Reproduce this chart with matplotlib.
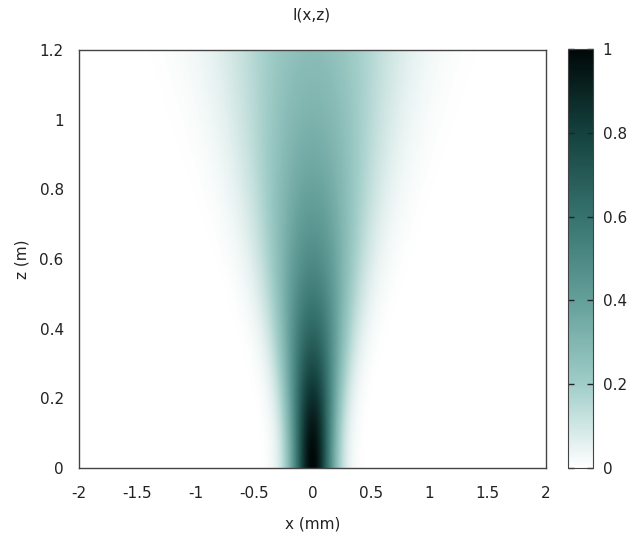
import numpy as np
import matplotlib
matplotlib.use('Agg')
import matplotlib.pyplot as plt
from matplotlib.colors import LinearSegmentedColormap

# beam parameters (1D gaussian beam)
w0 = 0.26e-3          # waist (m)
wavelength = 632.8e-9 # (m)
x_range = [-2.0, 2.0]   # mm
z_range = [0.0, 1.2]    # m
x_ticks = [-2, -1.5, -1, -0.5, 0, 0.5, 1, 1.5, 2]
z_ticks = [0, 0.2, 0.4, 0.6, 0.8, 1, 1.2]
cb_ticks = [0, 0.2, 0.4, 0.6, 0.8, 1]

# palette sampled from the colour box
pal_pos = [0.0, 0.2, 0.4, 0.6, 0.8, 1.0]
pal_col = ['#ffffff', '#a0cdc8', '#649f9a', '#37736e', '#14413e', '#000808']

plt.rcParams['axes.unicode_minus'] = False
plt.rcParams['font.family'] = 'DejaVu Sans'

zR = np.pi * w0**2 / wavelength
x = np.linspace(x_range[0], x_range[1], 600)
z = np.linspace(z_range[0], z_range[1], 400)
X, Z = np.meshgrid(x * 1e-3, z)
w = w0 * np.sqrt(1 + (Z / zR)**2)
I = (w0 / w) * np.exp(-2 * X**2 / w**2)

cmap = LinearSegmentedColormap.from_list('teal', list(zip(pal_pos, pal_col)))

fig = plt.figure(figsize=(6.28, 5.38), dpi=100)
ax = fig.add_axes([79/628, 70/538, 467/628, 418/538])
im = ax.imshow(I, origin='lower', aspect='auto', cmap=cmap, vmin=0, vmax=1,
               extent=[x_range[0], x_range[1], z_range[0], z_range[1]],
               interpolation='bilinear')
ax.set_xlim(x_range)
ax.set_ylim(z_range)
ax.set_xticks(x_ticks)
ax.set_xticklabels(['%g' % t for t in x_ticks])
ax.set_yticks(z_ticks)
ax.set_yticklabels(['%g' % t for t in z_ticks])
ax.tick_params(axis='both', length=0, labelsize=11, colors='#222222')
ax.tick_params(axis='x', pad=13)
ax.tick_params(axis='y', pad=11)
for s in ax.spines.values():
    s.set_color('#444444')
    s.set_linewidth(1.0)
ax.set_xlabel('x (mm)', fontsize=11, color='#222222', labelpad=11)
ax.set_ylabel('z (m)', fontsize=11, color='#222222', labelpad=7)

cax = fig.add_axes([568/628, 70/538, 25/628, 419/538])
cb = fig.colorbar(im, cax=cax, ticks=cb_ticks)
cb.ax.set_yticklabels(['%g' % t for t in cb_ticks])
cb.ax.tick_params(direction='in', length=4, width=1, left=True, right=True,
                  labelsize=11, colors='#222222', pad=7)
cb.outline.set_edgecolor('#444444')

fig.text(312/628, 1 - 15/538, 'I(x,z)', ha='center', va='center',
         fontsize=11, color='#222222')

fig.savefig('out.png', dpi=100)
